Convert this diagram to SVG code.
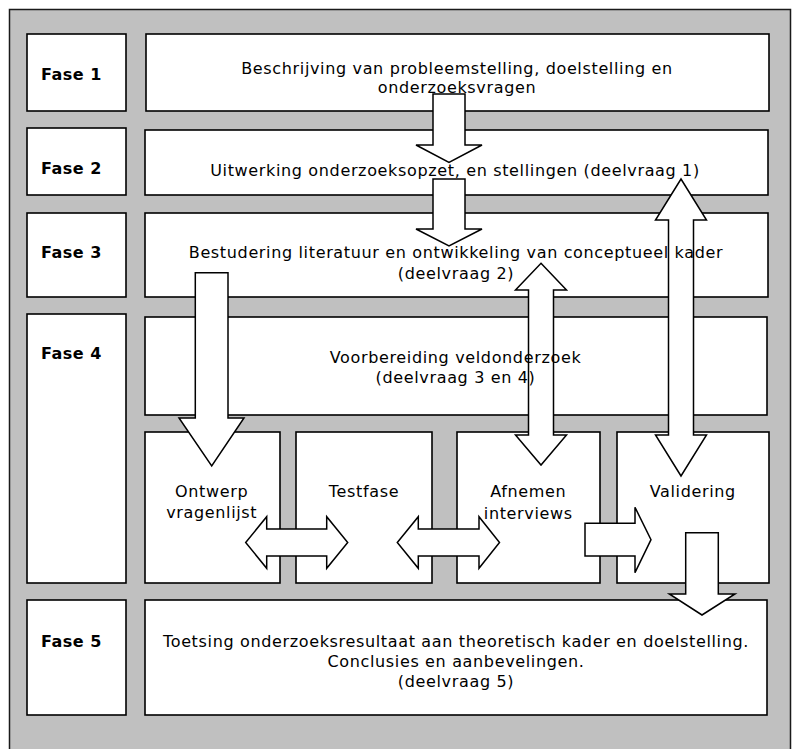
<svg xmlns="http://www.w3.org/2000/svg" width="793" height="749" viewBox="0 0 793 749">
  <style>
    .frame { fill: #c0c0c0; stroke: #1a1a1a; stroke-width: 1.5; }
    .box { fill: #ffffff; stroke: #000000; stroke-width: 1.6; }
    .arrow { fill: #ffffff; stroke: #000000; stroke-width: 1.5; stroke-linejoin: miter; }
    .phase { font-family: "DejaVu Sans", Verdana, sans-serif; font-size: 16px; font-weight: bold; letter-spacing: 0.5px; fill: #000; }
    .lbl { font-family: "DejaVu Sans", Verdana, sans-serif; font-size: 16px; letter-spacing: 0.65px; fill: #000; text-anchor: middle; }
  </style>

  <!-- background panel -->
  <rect class="frame" x="9.5" y="9.5" width="781" height="760"/>

  <!-- phase labels -->
  <g id="fase1"><rect class="box" x="27" y="34" width="99" height="77"/><text class="phase" x="41" y="80">Fase 1</text></g>
  <g id="fase2"><rect class="box" x="27" y="128" width="99" height="67"/><text class="phase" x="41" y="174">Fase 2</text></g>
  <g id="fase3"><rect class="box" x="27" y="213" width="99" height="84"/><text class="phase" x="41" y="258">Fase 3</text></g>
  <g id="fase4"><rect class="box" x="27" y="314" width="99" height="269"/><text class="phase" x="41" y="359">Fase 4</text></g>
  <g id="fase5"><rect class="box" x="27" y="600" width="99" height="115"/><text class="phase" x="41" y="647">Fase 5</text></g>

  <!-- step boxes -->
  <g id="probleemstelling"><rect class="box" x="146" y="34" width="623" height="77"/></g>
  <g id="onderzoeksopzet"><rect class="box" x="145" y="130" width="623" height="65"/></g>
  <g id="literatuur"><rect class="box" x="145" y="213" width="623" height="84"/></g>
  <g id="voorbereiding"><rect class="box" x="145" y="317" width="622" height="98"/></g>
  <g id="ontwerp"><rect class="box" x="145" y="432" width="135" height="151"/></g>
  <g id="testfase"><rect class="box" x="296" y="432" width="136" height="151"/></g>
  <g id="interviews"><rect class="box" x="457" y="432" width="143" height="151"/></g>
  <g id="validering"><rect class="box" x="617" y="432" width="152" height="151"/></g>
  <g id="toetsing"><rect class="box" x="145" y="600" width="622" height="115"/></g>

  <!-- block arrows -->
  <g id="connectors">
    <path class="arrow" d="M433,94 H465 V145 H482 L449,162.5 L416,145 H433 Z"/>
    <path class="arrow" d="M433,179 H465 V229 H482 L449,246 L416,229 H433 Z"/>
    <path class="arrow" d="M195.3,272.7 H228 V418 H244 L211.7,466 L179,418 H195.3 Z"/>
    <path class="arrow" d="M541,263.3 L566.5,290 H553.5 V435 H566.5 L541,465 L515.5,435 H528.5 V290 H515.5 Z"/>
    <path class="arrow" d="M681,179 L706.5,220 H693.5 V435 H706.5 L681,476 L655.5,435 H668.5 V220 H655.5 Z"/>
    <path class="arrow" d="M245.7,542.5 L266.7,516.7 V529 H326.7 V516.7 L347.7,542.5 L326.7,568.3 V556 H266.7 V568.3 Z"/>
    <path class="arrow" d="M397.3,542.5 L418.3,516.7 V529 H479 V516.7 L499.5,542.5 L479,568.3 V556 H418.3 V568.3 Z"/>
    <path class="arrow" d="M585,523.3 H635 V507.3 L651,539.7 L635,572.7 V556 H585 Z"/>
    <path class="arrow" d="M685.7,532.7 H718.3 V594 H735 L702,615 L669.3,594 H685.7 Z"/>
  </g>

  <!-- step texts -->
  <g id="probleemstelling-text"><text class="lbl" x="457" y="74">Beschrijving van probleemstelling, doelstelling en</text><text class="lbl" x="457" y="93">onderzoeksvragen</text></g>
  <g id="onderzoeksopzet-text"><text class="lbl" x="455" y="176">Uitwerking onderzoeksopzet, en stellingen (deelvraag 1)</text></g>
  <g id="literatuur-text"><text class="lbl" x="456" y="258">Bestudering literatuur en ontwikkeling van conceptueel kader</text><text class="lbl" x="456" y="279">(deelvraag 2)</text></g>
  <g id="voorbereiding-text"><text class="lbl" x="455.5" y="363">Voorbereiding veldonderzoek</text><text class="lbl" x="455.5" y="383">(deelvraag 3 en 4)</text></g>
  <g id="ontwerp-text"><text class="lbl" x="211.7" y="497">Ontwerp</text><text class="lbl" x="211.7" y="518">vragenlijst</text></g>
  <g id="testfase-text"><text class="lbl" x="364" y="497">Testfase</text></g>
  <g id="interviews-text"><text class="lbl" x="528.3" y="497">Afnemen</text><text class="lbl" x="528.3" y="519">interviews</text></g>
  <g id="validering-text"><text class="lbl" x="692.8" y="497">Validering</text></g>
  <g id="toetsing-text"><text class="lbl" x="456" y="647">Toetsing onderzoeksresultaat aan theoretisch kader en doelstelling.</text><text class="lbl" x="456" y="667">Conclusies en aanbevelingen.</text><text class="lbl" x="456" y="686.5">(deelvraag 5)</text></g>
</svg>
